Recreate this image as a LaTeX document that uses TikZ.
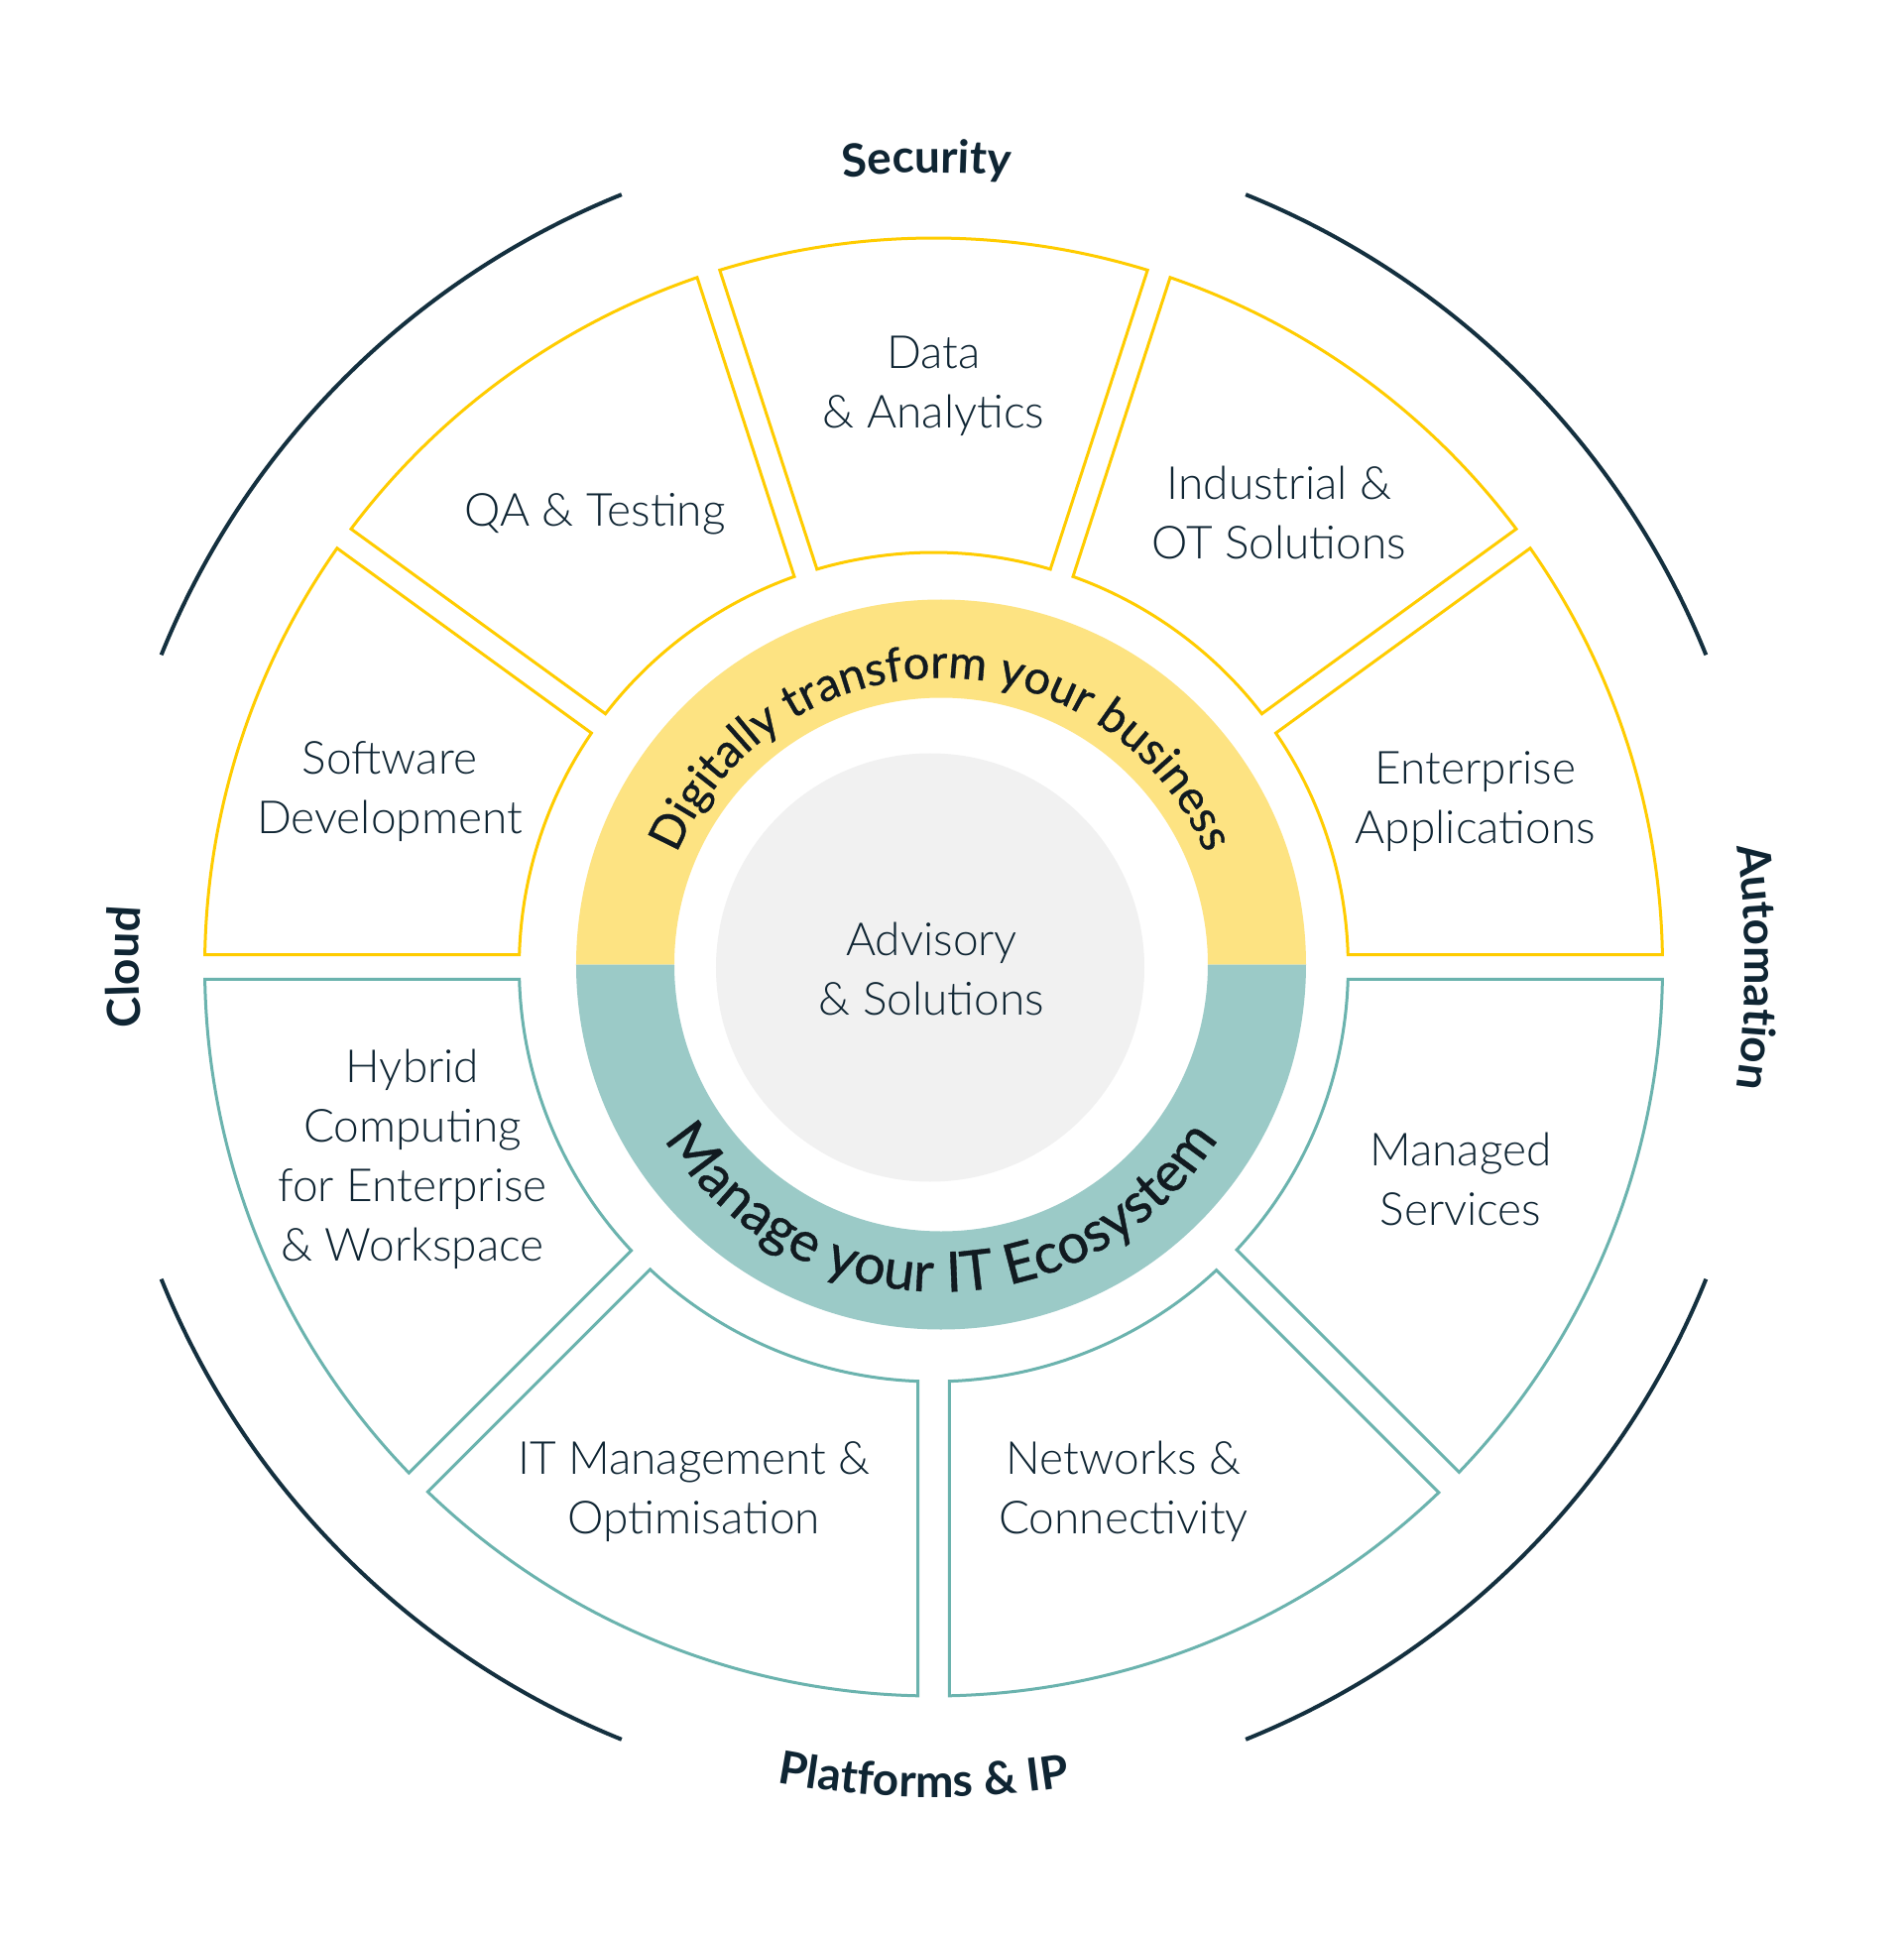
\documentclass[tikz,border=0pt]{standalone}
\usepackage{fontspec}
\setmainfont{Lato}
\newfontfamily\lightfont{Lato Light}
\newfontfamily\bandfamily{Lato}[FakeBold=0.7]
\usetikzlibrary{decorations.text}

\definecolor{navy}{HTML}{0F2533}
\definecolor{arcnavy}{HTML}{14303F}
\definecolor{ystroke}{HTML}{FFCC00}
\definecolor{tstroke}{HTML}{6BB3AE}
\definecolor{yfill}{HTML}{FDE382}
\definecolor{tfill}{HTML}{9BCAC7}
\definecolor{greyfill}{HTML}{F1F1F1}
\definecolor{bandtext}{HTML}{111A20}

\def\segRin{418}
\def\segRout{735}
\newcommand{\segdraw}[5]{%
  \pgfmathsetmacro{\sAi}{#1+asin(#3/\segRin)}%
  \pgfmathsetmacro{\sAo}{#1+asin(#3/\segRout)}%
  \pgfmathsetmacro{\sBo}{#2-asin(#4/\segRout)}%
  \pgfmathsetmacro{\sBi}{#2-asin(#4/\segRin)}%
  \draw[#5] (\sAi:\segRin) -- (\sAo:\segRout)
    arc[start angle=\sAo, end angle=\sBo, radius=\segRout]
    -- (\sBi:\segRin)
    arc[start angle=\sBi, end angle=\sAi, radius=\segRin] -- cycle;
}
\newcommand{\labelfont}{\bfseries\fontsize{23pt}{28pt}\selectfont\color{navy}}
\newcommand{\topbandfont}{\bandfamily\fontsize{23.5pt}{28pt}\selectfont\color{bandtext}}
\newcommand{\botbandfont}{\bandfamily\fontsize{28pt}{32pt}\selectfont\color{bandtext}}

\begin{document}
\begin{tikzpicture}[x=0.5pt,y=0.5pt,
  yseg/.style={draw=ystroke, line width=1.5pt, line join=miter},
  tseg/.style={draw=tstroke, line width=1.5pt, line join=miter},
  outerarc/.style={draw=arcnavy, line width=2pt},
  segtext/.style={font=\lightfont\fontsize{23pt}{30pt}\selectfont, text=navy, align=center, inner sep=0pt},
  curvetext/.style={decorate, decoration={text along path, text align=center, text={#1}}}
]
\useasboundingbox (-941.5,-974) rectangle (978.5,975);
\fill[white] (-941.5,-974) rectangle (978.5,975);

% centre disc
\fill[greyfill] (-3.5,-0.5) circle[radius=216];

% band halves
\fill[yfill] (7.5+368,2.5) arc[start angle=0, end angle=180, radius=368]
  -- (7.5-269,2.5) arc[start angle=180, end angle=0, radius=269] -- cycle;
\fill[tfill] (7.5-368,2.5) arc[start angle=180, end angle=360, radius=368]
  -- (7.5+269,2.5) arc[start angle=360, end angle=180, radius=269] -- cycle;

% band texts
\path[curvetext={|\topbandfont|Digitally transform your business}]
  (7.5-289,2.5) arc[start angle=180, end angle=0, radius=289];
\path[curvetext={|\botbandfont|Manage your IT Ecosystem}]
  (7.5-330,2.5) arc[start angle=180, end angle=360, radius=330];

% segments (upper, yellow)
\segdraw{0}{36}{12.5}{12}{yseg}
\segdraw{36}{72}{12}{12}{yseg}
\segdraw{72}{108}{12}{12}{yseg}
\segdraw{108}{144}{12}{12}{yseg}
\segdraw{144}{180}{12}{12.5}{yseg}
% segments (lower, teal)
\segdraw{180}{225}{12.5}{13.5}{tseg}
\segdraw{225}{270}{13.5}{16}{tseg}
\segdraw{270}{315}{16}{14.5}{tseg}
\segdraw{315}{360}{14.5}{12.5}{tseg}

% outer arcs
\draw[outerarc] (22:840) arc[start angle=22, end angle=68, radius=840];
\draw[outerarc] (112:840) arc[start angle=112, end angle=158, radius=840];
\draw[outerarc] (202:840) arc[start angle=202, end angle=248, radius=840];
\draw[outerarc] (292:840) arc[start angle=292, end angle=338, radius=840];

% outer labels
\path[curvetext={|\labelfont|Security}]
  (180.5:801) arc[start angle=180.5, end angle=0.5, radius=801];
\path[curvetext={|\labelfont|Platforms {\&} IP}]
  (179.3:837) arc[start angle=179.3, end angle=359.3, radius=837];
\path[curvetext={|\labelfont|Automation}]
  (90:818.5) arc[start angle=90, end angle=-90, radius=818.5];
\path[curvetext={|\labelfont|Cloud}]
  (270:801.5) arc[start angle=270, end angle=90, radius=801.5];

% segment texts
\node[segtext] (data) at (0,586) {Data\\\& Analytics};
\node[segtext] (qa) at (-341.5,457) {QA \& Testing};
\node[segtext] (ind) at (348.5,458) {Industrial \&\\OT Solutions};
\node[segtext] (ent) at (546.5,167) {Enterprise\\Applications};
\node[segtext] (soft) at (-548.5,177) {Software\\Development};
\node[segtext] (hyb) at (-525.5,-194) {Hybrid\\Computing\\for Enterprise\\\& Workspace};
\node[segtext] (itm) at (-241.5,-529) {IT Management \&\\Optimisation};
\node[segtext] (net) at (191.5,-529) {Networks \&\\Connectivity};
\node[segtext] (man) at (531.5,-214) {Managed\\Services};
\node[segtext] (adv) at (-2,-2) {Advisory\\\& Solutions};
\end{tikzpicture}
\end{document}
